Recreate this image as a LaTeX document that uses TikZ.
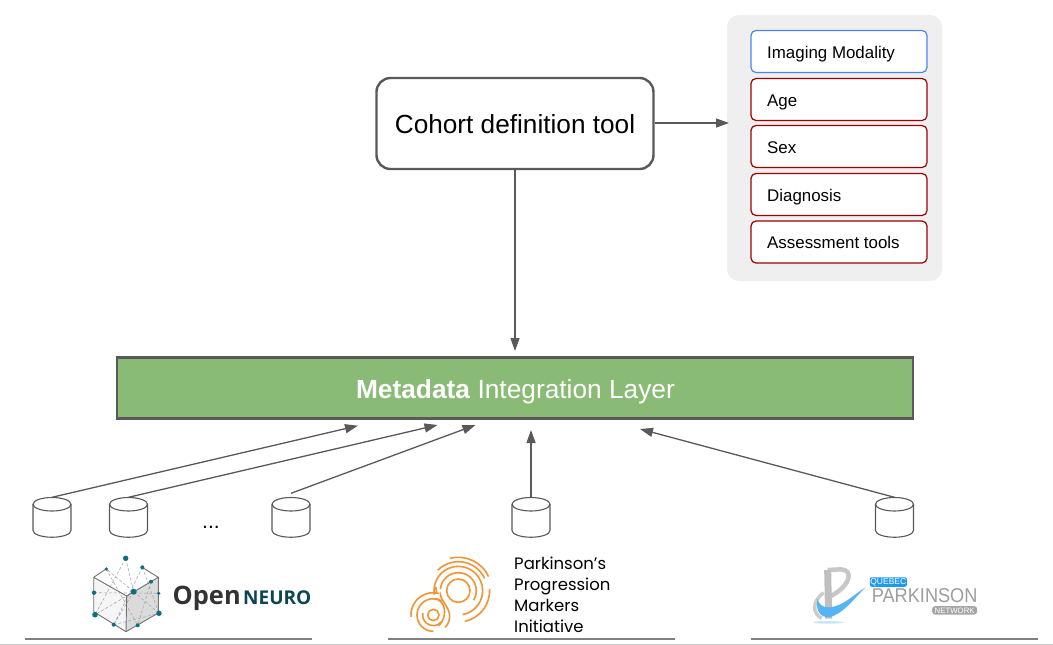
\documentclass[tikz,border=0pt]{standalone}
\usepackage{fontspec}
\usepackage{graphicx}
\setmainfont{Liberation Sans}
\newfontfamily\logofont{Poppins}
\newfontfamily\openfont{Open Sans}
\usetikzlibrary{arrows.meta,calc}
\definecolor{linegrey}{HTML}{595959}
\definecolor{panelgrey}{HTML}{EFEFEF}
\definecolor{groupgrey}{HTML}{7F7F7F}
\definecolor{blueedge}{HTML}{4A86E8}
\definecolor{rededge}{HTML}{990000}
\definecolor{layergreen}{HTML}{8ABB76}
\definecolor{teal}{HTML}{0F6E84}
\definecolor{openteal}{HTML}{0D4652}
\definecolor{ppmiorange}{HTML}{F29335}
\definecolor{qblue}{HTML}{1E9BF0}
\tikzset{
 x=1pt,y=-1pt,
 itembox/.style={draw,line width=1.2pt,rounded corners=5pt,fill=white,minimum width=176pt,minimum height=42pt,inner sep=0pt,anchor=center},
 itemlabel/.style={font=\fontsize{16.9}{18}\selectfont,text=black,anchor=west,inner sep=0pt},
 flow/.style={draw=linegrey,line width=1.3pt,-{Triangle[length=13pt,width=9pt]}},
 dbnode/.style={minimum width=38pt,minimum height=39.5pt,inner sep=0pt},
 dbline/.style={draw=linegrey,line width=1.1pt},
 grpline/.style={draw=groupgrey,line width=1.7pt},
 dotsm/.style={fill=teal,circle,inner sep=0pt},
 meshline/.style={draw=black!35,line width=.55pt,densely dashed},
 ring/.style={draw=ppmiorange,line width=1.6pt},
 ppmitext/.style={font=\logofont\fontsize{16.5}{17}\selectfont,anchor=base west,inner sep=0pt,text=black},
}
\newcommand{\dbcan}[2]{%
 \node[dbnode] (#1) at (#2,517.25) {};
 \draw[dbline,shift={(#1.center)}] (0,-13) ellipse[x radius=19,y radius=6.75];
 \draw[dbline,shift={(#1.center)}] (-19,-13) -- (-19,13.25) arc[start angle=180,end angle=0,x radius=19,y radius=6.75] -- (19,-13);
}
\newcommand{\ringarc}[4]{% centre, radius, start, end
 \draw[ring,line cap=butt] (#1) ++(#3:#2) arc[start angle=#3,end angle=#4,radius=#2];
}
\begin{document}
\begin{tikzpicture}
\useasboundingbox (0,0) rectangle (1053,645);
\fill[white] (0,0) rectangle (1053,645);
% panel
\node[fill=panelgrey,rounded corners=12pt,minimum width=215pt,minimum height=266pt,inner sep=0pt] (panel) at (834.5,148) {};
\node[itembox,draw=blueedge] (f1) at (839,51.5) {};
\node[itembox,draw=rededge] (f2) at (839,99.5) {};
\node[itembox,draw=rededge] (f3) at (839,146.5) {};
\node[itembox,draw=rededge] (f4) at (839,194.5) {};
\node[itembox,draw=rededge] (f5) at (839,242) {};
\node[itemlabel] (l1) at (767,54) {Imaging Modality};
\node[itemlabel] (l2) at (767,102.5) {Age};
\node[itemlabel] (l3) at (767,148) {Sex};
\node[itemlabel] (l4) at (767,197) {Diagnosis};
\node[itemlabel] (l5) at (767,242) {Assessment tools};
% cohort
\node[draw=linegrey,line width=2.4pt,rounded corners=14pt,fill=white,minimum width=277pt,minimum height=91pt,inner sep=0pt] (cohort) at (515,123.5) {};
\node[inner sep=0pt,font=\fontsize{26.2}{28}\selectfont] (cohortlabel) at (515,124.5) {Cohort definition tool};
% layer
\node[draw=linegrey,line width=2.6pt,fill=layergreen,minimum width=796pt,minimum height=61pt,inner sep=0pt] (layer) at (515,388) {};
\node[inner sep=0pt,text=white,font=\fontsize{26.3}{28}\selectfont] (layerlabel) at (515.5,392) {\textbf{Metadata} Integration Layer};
\coordinate (panelin) at (729,123);
\coordinate (layertop) at (515,351);
\draw[flow] (cohort.east |- panelin) -- (panelin);
\draw[flow] (cohort.south) -- (layertop);
% databases
\dbcan{d1}{52}
\dbcan{d2}{128.5}
\dbcan{d3}{291}
\dbcan{d4}{531}
\dbcan{d5}{894.5}
\node[font=\fontsize{21}{21}\selectfont,inner sep=0pt] (ell) at (211,527) {...};
\coordinate (a1) at (358,425.7);
\coordinate (a2) at (437.5,425);
\coordinate (a3) at (475.5,425);
\coordinate (a4) at (531,430);
\coordinate (a5) at (640,429);
\draw[flow] (d1.north) -- (a1);
\draw[flow] (d2.north) -- (a2);
\draw[flow] (d3.north) ++(0,-4) -- (a3);
\draw[flow] (d4.north) -- (a4);
\draw[flow] (d5.north) -- (a5);
% baseline rules
\draw[grpline] (25,639) -- (312,639);
\draw[grpline] (388,639) -- (675,639);
\draw[grpline] (751,639) -- (1038,639);
\draw[draw=black!22,line width=.9pt] (0,644.4) -- (1053,644.4);
% OpenNeuro logo
\fill[black!4] (93.7,577.3) -- (126.7,596) -- (126,631.7) -- (93.7,611.7) -- cycle;
\fill[black!14] (126.7,596) -- (151,582) -- (158.3,577.3) -- (158.3,613) -- (126,631.7) -- cycle;
\draw[meshline] (125.7,558.3) -- (133.7,591.7) -- (106.3,569) (125.7,558.3) -- (95,614.7) (142.3,567.3) -- (113.7,624.7) (94,592.7) -- (158.7,593.3) (106.3,569) -- (137.7,625.3) (151,581.7) -- (95,614.7) (133.7,591.7) -- (159,613.3) (133.7,591.7) -- (113.7,624.7) (142.3,567.3) -- (159,613.3) (151,581.7) -- (137.7,625.3) (113.7,624.7) -- (159,613.3);
\draw[black!55,line width=.9pt,line join=round] (106,569) -- (93.7,577.3) -- (126.7,596) -- (158.3,577.3) -- (142.7,567.7) (93.7,577.3) -- (93.7,611.7) -- (126,631.7) -- (158.3,613) -- (158.3,577.3) (126.7,596) -- (126,631.7);
\foreach \px/\py/\pr in {125.7/558.3/5.4,106.3/569/3.6,142.3/567.3/4,151/581.7/4,133.7/591.7/6,94/592.7/4.4,158.7/593.3/3.6,95/614.7/5.6,159/613.3/5.4,113.7/624.7/4,137.7/625.3/4}
  \node[dotsm,minimum size=\pr pt] at (\px,\py) {};
\node[anchor=base west,inner sep=0pt,font=\openfont\bfseries\fontsize{25.4}{28}\selectfont,text=black!80] (opentxt) at (172.5,604.5) {Open};
\node[anchor=base west,inner sep=0pt,font=\openfont\bfseries\fontsize{19}{21}\selectfont,text=openteal] (neurotxt) at (243,604.5) {NEURO};
% PPMI logo (units: zoom pixels)
\begin{scope}[shift={(405,550)},x=.3333pt,y=-.3333pt]
 \coordinate (bc) at (160,122);
 \coordinate (sc) at (85,195);
 \draw[ring] (bc) circle[radius=35];
 \ringarc{bc}{54}{185}{392}
 \ringarc{bc}{73}{170}{440}
 \ringarc{bc}{87}{225}{335}
 \ringarc{bc}{100}{255}{335}
 \ringarc{bc}{94}{-3}{78}
 \draw[ring] (sc) circle[radius=17];
 \ringarc{sc}{32}{40}{190}
 \ringarc{sc}{49}{90}{300}
 \ringarc{sc}{67}{175}{285}
 \draw[ring] (106,127) .. controls (103,150) and (135,170) .. (134,200) .. controls (133,215) and (128,225) .. (120,232);
 \draw[ring] (85,146) .. controls (110,146) and (122,172) .. (118,195) .. controls (115,210) and (108,222) .. (100,228);
 \draw[ring] (90,128) .. controls (100,130) and (92,122) .. (92,110);
\end{scope}
\node[ppmitext] (t1) at (514,569) {Parkinson’s};
\node[ppmitext] (t2) at (514,590) {Progression};
\node[ppmitext] (t3) at (514,611) {Markers};
\node[ppmitext] (t4) at (514,632) {Initiative};
% Quebec logo (units: zoom pixels)
\begin{scope}[shift={(805,560)},x=.3333pt,y=-.3333pt]
 \fill[qblue!25] (70,187) ellipse[x radius=45,y radius=4];
 \draw[black!22,line width=4.5pt,line join=round] (68,30) -- (108,28) .. controls (148,30) and (135,78) .. (78,108);
 \draw[black!25,line width=7pt] (68,30) -- (71,176);
 \draw[black!20,line width=3.5pt] (56,98) .. controls (20,125) and (22,160) .. (50,175);
 \fill[qblue!75] (38,115) .. controls (28,160) and (55,180) .. (85,168) .. controls (125,150) and (150,112) .. (182,82) .. controls (150,100) and (115,140) .. (72,142) .. controls (52,143) and (40,132) .. (38,115) -- cycle;
 \node[fill=qblue,rounded corners=2pt,minimum width=37pt,minimum height=9.5pt,inner sep=0pt,text=white,font=\fontsize{8.5}{8.5}\selectfont] (qtag) at (250,66) {QUEBEC};
 \node[anchor=base west,inner sep=0pt,font=\fontsize{20}{20}\selectfont,text=black!38] (qname) at (200,128) {\scalebox{.908}[1]{PARKINSON}};
 \node[fill=black!35,rounded corners=3pt,minimum width=45pt,minimum height=8.5pt,inner sep=0pt,text=white,font=\fontsize{7.8}{8}\selectfont] (qnet) at (449,151) {NETWORK};
\end{scope}
\end{tikzpicture}
\end{document}
